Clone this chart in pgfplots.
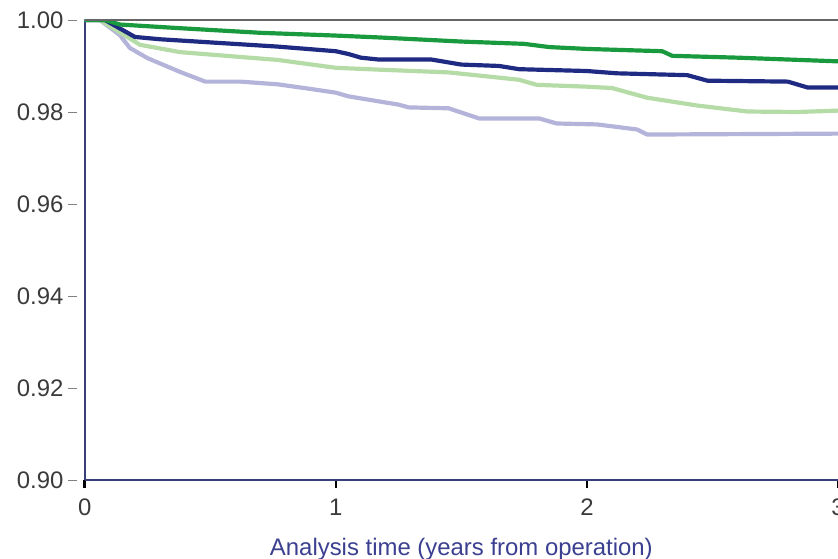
\documentclass[border=0pt]{standalone}
\usepackage{pgfplots}
\pgfplotsset{compat=1.18}
\usepackage{fontspec}
\setmainfont{Liberation Sans}
\definecolor{dgreen}{HTML}{1A9A3E}
\definecolor{navy}{HTML}{1F2A82}
\definecolor{lgreen}{HTML}{B5DBA6}
\definecolor{lav}{HTML}{B4B4DA}
\definecolor{axcol}{HTML}{383E78}
\definecolor{labcol}{HTML}{3A3F90}
\definecolor{tickcol}{HTML}{3A3A3A}
\begin{document}
\begin{tikzpicture}
\begin{axis}[
  name=ax,
  scale only axis,
  width=378pt, height=231pt,
  xmin=0, xmax=3, ymin=0.90, ymax=1.00,
  axis lines*=left,
  axis line style={axcol, line width=1pt},
  xtick={0,1,2,3},
  ytick={0.90,0.92,0.94,0.96,0.98,1.00},
  /pgf/number format/assume math mode=true,
  font=\fontsize{12}{14}\selectfont,
  ytick style={draw=none},
  xtick style={black, line width=1.3pt},
  tick align=outside,
  major tick length=4pt,
  yticklabel={\pgfmathprintnumber[fixed,fixed zerofill,precision=2]{\tick}\hspace{2.5pt}\textcolor{gray}{\rule[3.6pt]{4.5pt}{0.7pt}}},
  yticklabel style={inner sep=0pt, xshift=0.5pt, text=tickcol},
  xticklabel style={text=tickcol, inner sep=0pt, yshift=-5pt},
  xlabel={Analysis time (years from operation)},
  xlabel style={text=labcol, at={(axis description cs:0.5,0)}, anchor=north, yshift=-29pt, inner sep=0pt},
  every axis plot/.append style={line width=2.1pt, line join=round},
  clip=true,
]
\addplot[lav] coordinates {(0,1)(0.06,1)(0.14,0.9967)(0.18,0.9939)(0.25,0.9917)(0.38,0.9887)(0.48,0.9866)(0.62,0.9866)(0.77,0.9860)(0.9,0.9850)(1.0,0.9842)(1.05,0.9834)(1.25,0.9816)(1.29,0.9810)(1.45,0.9808)(1.57,0.9786)(1.81,0.9786)(1.88,0.9775)(2.04,0.9773)(2.2,0.9762)(2.24,0.9751)(3.0,0.9753)};
\addplot[lgreen] coordinates {(0,1)(0.06,1)(0.22,0.9946)(0.38,0.9930)(0.77,0.9913)(1.0,0.9896)(1.17,0.9892)(1.45,0.9886)(1.73,0.9870)(1.8,0.9859)(2.0,0.9855)(2.1,0.9852)(2.24,0.9831)(2.44,0.9814)(2.64,0.9801)(2.84,0.9800)(3.0,0.9803)};
\addplot[navy] coordinates {(0,1)(0.08,1)(0.2,0.9963)(0.3,0.9958)(0.77,0.9942)(1.0,0.9932)(1.05,0.9926)(1.1,0.9918)(1.17,0.9914)(1.38,0.9914)(1.5,0.9903)(1.65,0.9900)(1.73,0.9893)(2.0,0.9889)(2.12,0.9884)(2.4,0.9880)(2.48,0.9868)(2.8,0.9866)(2.88,0.9853)(3.0,0.9853)};
\addplot[dgreen] coordinates {(0,1)(0.08,1)(0.14,0.9990)(0.38,0.9982)(0.7,0.9972)(1.0,0.9966)(1.17,0.9962)(1.5,0.9953)(1.75,0.9948)(1.85,0.9941)(2.0,0.9937)(2.3,0.9932)(2.34,0.9922)(2.6,0.9918)(3.0,0.9910)};
\end{axis}
\draw[gray!80!black, line width=1pt] (ax.north west) -- (ax.north east);
\pgfresetboundingbox
\path ([xshift=-42.5pt,yshift=-39.5pt]ax.south west) rectangle ([yshift=10pt]ax.north east);
\end{tikzpicture}
\end{document}
